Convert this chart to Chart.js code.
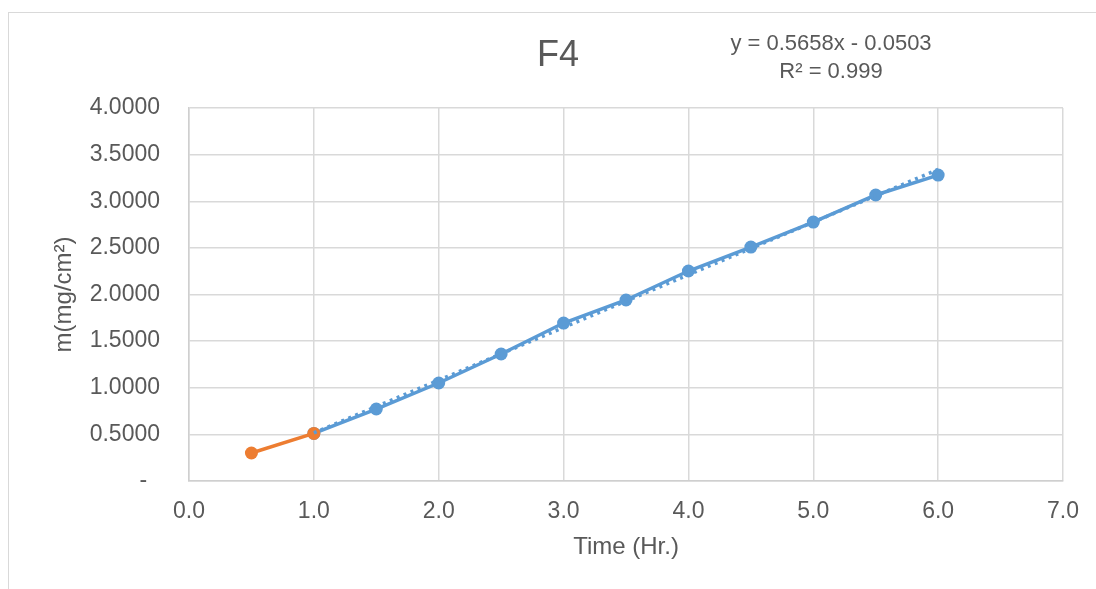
<!DOCTYPE html>
<html>
<head>
<meta charset="utf-8">
<script src="https://cdn.jsdelivr.net/npm/chart.js@4"></script>
<style>
  html, body { margin: 0; padding: 0; background: #fff; overflow: hidden; }
  #wrap { position: relative; width: 1096px; height: 589px; }
  #frame { position: absolute; left: 8px; top: 12px; width: 1100px; height: 600px;
           border-left: 1.5px solid #d9d9d9; border-top: 1.5px solid #d9d9d9; box-sizing: border-box; }
  canvas { position: absolute; left: 0; top: 0; }
</style>
</head>
<body>
<div id="wrap">
  <div id="frame"></div>
  <canvas id="chart" width="1096" height="589"></canvas>
</div>
<script>
// measured series (Time in hours, mass gain in mg/cm²)
const blueTime = [1.0, 1.5, 2.0, 2.5, 3.0, 3.5, 4.0, 4.5, 5.0, 5.5, 6.0];
const blueMass = [0.51, 0.772, 1.051, 1.362, 1.694, 1.941, 2.252, 2.509, 2.777, 3.067, 3.281];
const orangeTime = [0.5, 1.0];
const orangeMass = [0.30, 0.51];

const chartTitle = 'F4';
const equationLines = ['y = 0.5658x - 0.0503', 'R\u00b2 = 0.999'];
const xTitle = 'Time (Hr.)';
const yTitle = 'm(mg/cm\u00b2)';

const textColor = '#595959';
const gridColor = '#d9d9d9';
const blue = '#5B9BD5';
const orange = '#ED7D31';
const fontFamily = "'Liberation Sans', Arial, sans-serif";

// linear trendline fitted to the blue series (least squares, like Excel)
function linearFit(xs, ys) {
    const n = xs.length;
    const mx = xs.reduce((a, b) => a + b, 0) / n;
    const my = ys.reduce((a, b) => a + b, 0) / n;
    let sxy = 0, sxx = 0;
    for (let i = 0; i < n; i++) {
        sxy += (xs[i] - mx) * (ys[i] - my);
        sxx += (xs[i] - mx) * (xs[i] - mx);
    }
    const slope = sxy / sxx;
    return { slope: slope, intercept: my - slope * mx };
}
const fit = linearFit(blueTime, blueMass);
const trendX = [blueTime[0], blueTime[blueTime.length - 1]];

const toPoints = (xs, ys) => xs.map((x, i) => ({ x: x, y: ys[i] }));

// title and equation text drawn above the plot
const headerText = {
    id: 'headerText',
    afterDraw(chart) {
        const ctx = chart.ctx;
        ctx.save();
        ctx.fillStyle = textColor;
        ctx.textAlign = 'center';
        ctx.textBaseline = 'middle';
        ctx.font = '36px ' + fontFamily;
        ctx.fillText(chartTitle, 558, 56);
        ctx.font = '22px ' + fontFamily;
        ctx.fillText(equationLines[0], 831, 44);
        ctx.fillText(equationLines[1], 831, 72);
        ctx.restore();
    }
};

new Chart(document.getElementById('chart').getContext('2d'), {
    type: 'line',
    data: {
        datasets: [
            {
                label: 'Linear trend',
                data: toPoints(trendX, trendX.map(x => fit.slope * x + fit.intercept)),
                borderColor: blue,
                borderWidth: 3.5,
                borderDash: [3, 4.5],
                pointRadius: 0,
                order: 0
            },
            {
                label: 'Initial',
                data: toPoints(orangeTime, orangeMass),
                borderColor: orange,
                backgroundColor: orange,
                borderWidth: 3.5,
                pointRadius: 6.5,
                pointBorderWidth: 0,
                order: 1
            },
            {
                label: 'F4',
                data: toPoints(blueTime, blueMass),
                borderColor: blue,
                backgroundColor: blue,
                borderWidth: 3.5,
                pointRadius: 6.5,
                pointBorderWidth: 0,
                order: 2
            }
        ]
    },
    options: {
        responsive: false,
        animation: false,
        layout: { padding: { top: 108, right: 32, bottom: 0, left: 0 } },
        plugins: {
            legend: { display: false },
            tooltip: { enabled: false },
            title: { display: false }
        },
        scales: {
            x: {
                type: 'linear',
                min: 0,
                max: 7,
                ticks: {
                    stepSize: 1,
                    color: textColor,
                    padding: 17,
                    font: { family: fontFamily, size: 23 },
                    callback: v => v.toFixed(1)
                },
                grid: { color: gridColor, lineWidth: 1.5, drawTicks: false },
                border: { color: '#cfcfcf', width: 1.5 },
                title: {
                    display: true,
                    text: xTitle,
                    color: textColor,
                    font: { family: fontFamily, size: 24 },
                    padding: { top: 0, bottom: 27 }
                },
                afterFit(scale) { scale.height = 108; }
            },
            y: {
                min: 0,
                max: 4,
                ticks: {
                    stepSize: 0.5,
                    color: textColor,
                    padding: 29,
                    font: { family: fontFamily, size: 23 },
                    callback: v => v === 0 ? '-\u2007' : v.toFixed(4)
                },
                grid: { color: gridColor, lineWidth: 1.5, drawTicks: false },
                border: { color: '#cfcfcf', width: 1.5 },
                title: {
                    display: true,
                    text: yTitle,
                    color: textColor,
                    font: { family: fontFamily, size: 24 },
                    padding: { top: 50, bottom: 0 }
                },
                afterFit(scale) { scale.width = 189; }
            }
        }
    },
    plugins: [headerText]
});
</script>
</body>
</html>
